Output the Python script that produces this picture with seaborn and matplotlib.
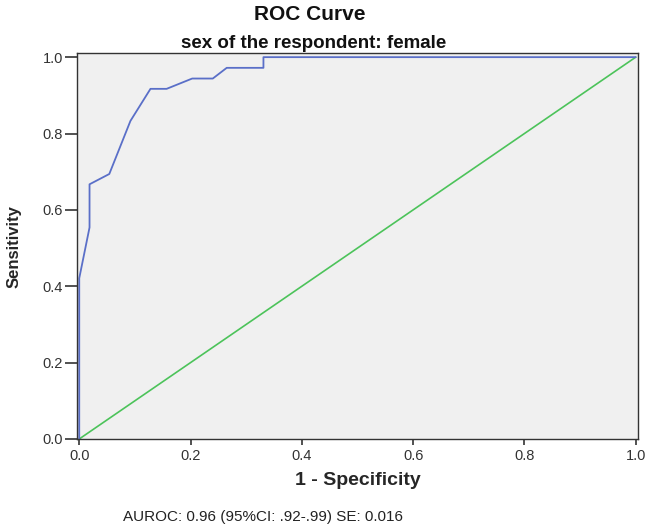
import pandas as pd
import matplotlib
matplotlib.use("Agg")
import matplotlib.pyplot as plt
import seaborn as sns

# ROC points
fpr = [0.0, 0.0, 0.0185, 0.0185, 0.054, 0.092, 0.128, 0.157, 0.203, 0.240, 0.265, 0.331, 0.331, 1.0]
tpr = [0.0, 0.421, 0.554, 0.667, 0.694, 0.833, 0.917, 0.917, 0.944, 0.944, 0.972, 0.972, 1.0, 1.0]
ref_x = [0.0, 1.0]
ref_y = [0.0, 1.0]
ticks = [0.0, 0.2, 0.4, 0.6, 0.8, 1.0]

sns.set_style("ticks")
plt.rcParams['font.family'] = ['Liberation Sans', 'DejaVu Sans']

roc = pd.DataFrame({'fpr': fpr, 'tpr': tpr})
ref = pd.DataFrame({'x': ref_x, 'y': ref_y})

fig = plt.figure(figsize=(6.51, 5.28), dpi=100)
ax = fig.add_axes([0.1183, 0.1686, 0.8617, 0.7304])
ax.set_facecolor('#f0f0f0')

sns.lineplot(data=ref, x='x', y='y', ax=ax, color='#4cc35a', linewidth=1.2,
             sort=False, estimator=None)
sns.lineplot(data=roc, x='fpr', y='tpr', ax=ax, color='#5a6fc8', linewidth=1.3,
             sort=False, estimator=None)

ax.set_xlim(-0.004, 1.004)
ax.set_ylim(0.0, 1.01)
ax.set_xticks(ticks)
ax.set_yticks(ticks)
ax.set_xticklabels([f"{t:.1f}" for t in ticks])
ax.set_yticklabels([f"{t:.1f}" for t in ticks])
ax.tick_params(axis='both', width=1.2, color='#333333',
               labelsize=10.5, labelcolor='#333333')
ax.tick_params(axis='x', length=4.5, pad=3)
ax.tick_params(axis='y', length=8.5, pad=1.5)
for s in ax.spines.values():
    s.set_visible(True)
    s.set_color('#333333')
    s.set_linewidth(1.0)

ax.set_xlabel('1 - Specificity', fontsize=14, fontweight='bold', va='center')
ax.set_ylabel('Sensitivity', fontsize=12, fontweight='bold', va='center')
ax.xaxis.set_label_coords(0.5, -0.1076)
ax.yaxis.set_label_coords(-0.112, 0.5)

fig.text(0.476, 0.972, 'ROC Curve', ha='center', va='center', fontsize=15,
         fontweight='bold', color='#111111')
fig.text(0.481, 0.917, 'sex of the respondent: female', ha='center', va='center',
         fontsize=13.5, fontweight='bold', color='#111111')
fig.text(0.404, 0.021, 'AUROC: 0.96 (95%CI: .92-.99) SE: 0.016', ha='center',
         va='center', fontsize=11, color='#222222')

fig.savefig('out.png', dpi=100)
